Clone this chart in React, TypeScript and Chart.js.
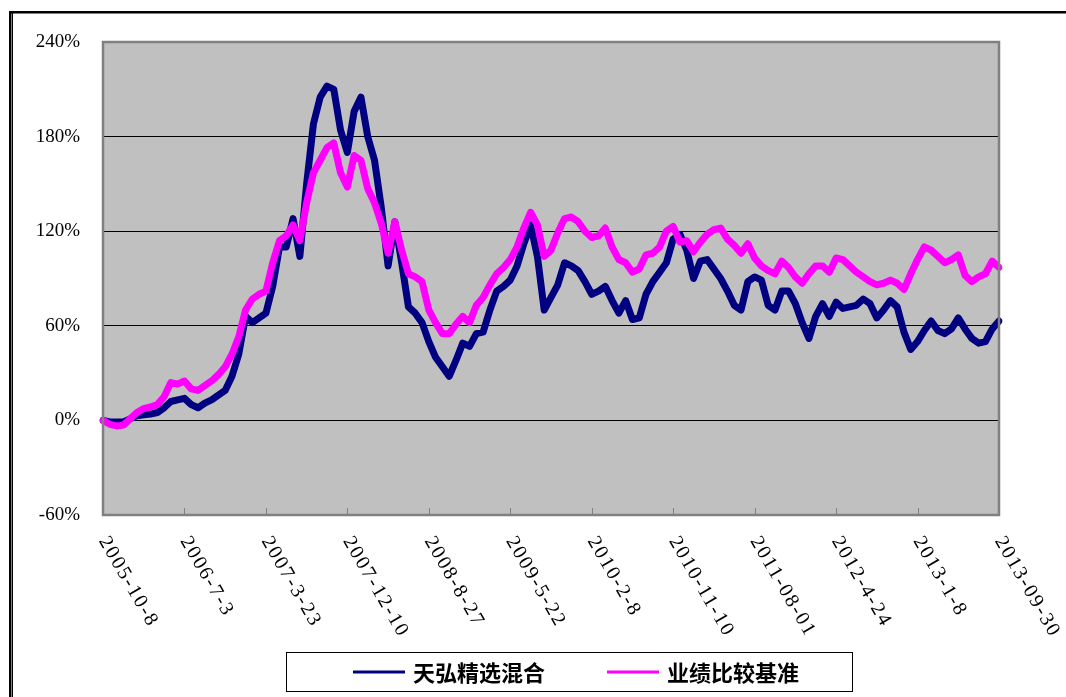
import React, { useEffect, useRef } from 'react';
import { Chart, registerables } from 'chart.js';

Chart.register(...registerables);

// Dates shown on the x axis (evenly spaced category ticks)
const xTickLabels = [
  '2005-10-8', '2006-7-3', '2007-3-23', '2007-12-10', '2008-8-27', '2009-5-22',
  '2010-2-8', '2010-11-10', '2011-08-01', '2012-4-24', '2013-1-8', '2013-09-30',
];
const POINTS_PER_TICK = 12;

const seriesNames = ['天弘精选混合', '业绩比较基准'];

// cumulative return (%) of the fund
const fundReturns = [
  0, -1, -1, -1, 1, 3, 3.5, 4, 5, 8, 12, 13,
  14, 10, 8, 11, 13, 16, 19, 28, 42, 66, 62, 65,
  68, 85, 110, 110, 128, 104, 150, 188, 205, 212, 210, 184,
  170, 196, 205, 180, 165, 135, 98, 126, 100, 72, 68, 62,
  50, 40, 34, 28, 38, 49, 47, 55, 56, 70, 82, 85,
  89, 98, 112, 124, 104, 70, 78, 86, 100, 98, 95, 88,
  80, 82, 85, 76, 68, 76, 64, 65, 80, 88, 94, 100,
  115, 118, 108, 90, 101, 102, 96, 90, 82, 73, 70, 88,
  91, 89, 73, 70, 82, 82, 74, 62, 52, 66, 74, 66,
  75, 71, 72, 73, 77, 74, 65, 70, 76, 72, 56, 45,
  50, 57, 63, 57, 55, 58, 65, 58, 52, 49, 50, 58,
  63,
];

// cumulative return (%) of the benchmark
const benchmarkReturns = [
  0, -2.5, -3.5, -3, 1, 5, 7.5, 8.5, 10, 15, 24, 23,
  25, 20, 19, 22, 25, 29, 34, 42, 53, 70, 77, 80,
  82, 100, 114, 117, 124, 114, 138, 157, 165, 173, 176, 157,
  148, 168, 165, 147, 138, 125, 106, 126, 108, 93, 91, 88,
  70, 62, 55, 55, 61, 66, 62, 73, 78, 86, 93, 97,
  102, 110, 122, 132, 124, 104, 108, 119, 128, 129, 126, 120,
  116, 117, 122, 110, 102, 100, 94, 96, 105, 106, 110, 120,
  123, 113, 114, 107, 113, 118, 121, 122, 115, 111, 106, 112,
  103, 98, 95, 93, 101, 97, 91, 87, 93, 98, 98, 94,
  103, 102, 98, 94, 91, 88, 86, 87, 89, 87, 83, 93,
  102, 110, 108, 104, 100, 102, 105, 92, 88, 91, 93, 101,
  97,
];

const Y_MIN = -60;
const Y_MAX = 240;
const Y_STEP = 60;

const FUND_COLOR = '#000080';
const BENCH_COLOR = '#FF00FF';

const framePlugin = {
  id: 'framePlugin',
  beforeDraw(chart: any) {
    const { ctx, width, height, chartArea } = chart;
    ctx.save();
    ctx.fillStyle = '#ffffff';
    ctx.fillRect(0, 0, width, height);
    // outer frame
    ctx.fillStyle = '#000000';
    ctx.fillRect(9, 11, 2.5, height - 11);
    ctx.fillRect(12, 13, 1, height - 13);
    ctx.fillRect(9, 11, width - 9, 2.5);
    // plot background
    ctx.fillStyle = '#C0C0C0';
    ctx.fillRect(chartArea.left, chartArea.top, chartArea.right - chartArea.left, chartArea.bottom - chartArea.top);
    ctx.restore();
  },
  afterDraw(chart: any) {
    const { ctx, chartArea } = chart;
    const xs = chart.scales.x;
    ctx.save();
    // plot border
    ctx.strokeStyle = '#808080';
    ctx.lineWidth = 2.5;
    ctx.strokeRect(chartArea.left, chartArea.top, chartArea.right - chartArea.left, chartArea.bottom - chartArea.top);
    // tick marks
    ctx.lineWidth = 1;
    ctx.strokeStyle = '#808080';
    xTickLabels.forEach((_, j) => {
      if (j === 0 || j === xTickLabels.length - 1) return;
      const px = Math.round(xs.getPixelForValue(j * POINTS_PER_TICK)) + 0.5;
      ctx.beginPath();
      ctx.moveTo(px, chartArea.bottom);
      ctx.lineTo(px, chartArea.bottom - 7);
      ctx.stroke();
    });
    // rotated x labels
    ctx.fillStyle = '#000000';
    ctx.font = '20px "Liberation Serif"';
    (ctx as any).letterSpacing = '2px';
    ctx.textAlign = 'left';
    ctx.textBaseline = 'middle';
    xTickLabels.forEach((lab, j) => {
      const px = xs.getPixelForValue(j * POINTS_PER_TICK);
      ctx.save();
      ctx.translate(px, chartArea.bottom + 23);
      ctx.rotate(Math.PI / 3);
      ctx.fillText(lab, 0, 0);
      ctx.restore();
    });
    (ctx as any).letterSpacing = '0px';
    // legend box
    const lx = 286.5, ly = 652.5, lw = 566, lh = 39;
    ctx.strokeStyle = '#000000';
    ctx.lineWidth = 1;
    ctx.strokeRect(lx, ly, lw, lh);
    const midY = ly + lh / 2;
    const colors = [FUND_COLOR, BENCH_COLOR];
    const starts = [353, 607];
    ctx.font = 'bold 22px "Noto Sans CJK SC"';
    ctx.textBaseline = 'middle';
    seriesNames.forEach((name, i) => {
      ctx.strokeStyle = colors[i];
      ctx.lineWidth = 3;
      ctx.beginPath();
      ctx.moveTo(starts[i], midY);
      ctx.lineTo(starts[i] + 52, midY);
      ctx.stroke();
      ctx.fillStyle = '#000000';
      ctx.fillText(name, starts[i] + 60, midY + 1);
    });
    ctx.restore();
  },
};

export default function App() {
  const canvasRef = useRef<HTMLCanvasElement | null>(null);

  useEffect(() => {
    const canvas = canvasRef.current;
    if (!canvas) return;
    const labels = fundReturns.map((_, i) =>
      i % POINTS_PER_TICK === 0 ? xTickLabels[i / POINTS_PER_TICK] : ''
    );
    const chart = new Chart(canvas, {
      type: 'line',
      data: {
        labels,
        datasets: [
          {
            label: seriesNames[0],
            data: fundReturns,
            borderColor: FUND_COLOR,
            backgroundColor: FUND_COLOR,
            borderWidth: 7,
            pointRadius: 0,
            tension: 0,
            borderJoinStyle: 'round',
            borderCapStyle: 'round',
            order: 2,
          },
          {
            label: seriesNames[1],
            data: benchmarkReturns,
            borderColor: BENCH_COLOR,
            backgroundColor: BENCH_COLOR,
            borderWidth: 7,
            pointRadius: 0,
            tension: 0,
            borderJoinStyle: 'round',
            borderCapStyle: 'round',
            order: 1,
          },
        ],
      },
      options: {
        responsive: false,
        animation: false,
        layout: { padding: { top: 42, right: 67, bottom: 0, left: 0 } },
        plugins: {
          legend: { display: false },
          tooltip: { enabled: false },
        },
        scales: {
          x: {
            type: 'category',
            offset: false,
            grid: { display: false },
            border: { display: false },
            ticks: { display: false },
            afterFit: (scale: any) => {
              scale.height = 182;
            },
          },
          y: {
            min: Y_MIN,
            max: Y_MAX,
            border: { display: false },
            grid: {
              drawTicks: false,
              lineWidth: 1,
              color: (c: any) =>
                c.tick && (c.tick.value === Y_MIN || c.tick.value === Y_MAX) ? 'rgba(0,0,0,0)' : '#000000',
            },
            ticks: {
              stepSize: Y_STEP,
              padding: 23,
              color: '#000000',
              font: { family: '"Liberation Serif"', size: 19 },
              callback: (v: any) => `${v}%`,
            },
            afterFit: (scale: any) => {
              scale.width = 103;
            },
          },
        },
      },
      plugins: [framePlugin],
    });
    return () => chart.destroy();
  }, []);

  return (
    <div style={{ position: 'fixed', left: 0, top: 0, width: 1066, height: 697, background: '#fff' }}>
      <canvas ref={canvasRef} width={1066} height={697} style={{ display: 'block' }} />
    </div>
  );
}
